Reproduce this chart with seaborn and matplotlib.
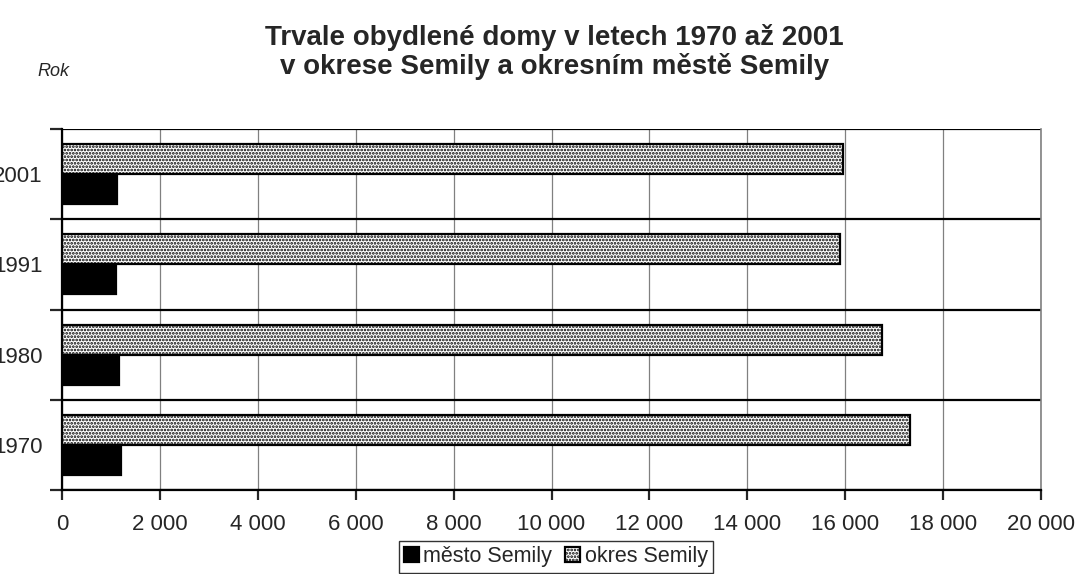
import pandas as pd
import numpy as np
import matplotlib
matplotlib.use('Agg')
import matplotlib.pyplot as plt
from matplotlib.ticker import FuncFormatter, FixedLocator
import seaborn as sns

roky = ['2001', '1991', '1980', '1970']
mesto = [1130, 1110, 1170, 1210]
okres = [15950, 15900, 16760, 17320]
rady = ['okres Semily', 'město Semily']

df = pd.DataFrame({
    'rok': roky * 2,
    'domy': okres + mesto,
    'rada': [rady[0]] * 4 + [rady[1]] * 4,
})

sns.set_style('white')
plt.rcParams['font.family'] = ['Liberation Sans', 'DejaVu Sans']
plt.rcParams['hatch.linewidth'] = 1.3
plt.rcParams['hatch.color'] = 'black'

fig = plt.figure(figsize=(10.77, 5.74), dpi=100)
ax = fig.add_axes([62/1077, 1 - 490/574, (1041-62)/1077, (490-129)/574])

sns.barplot(data=df, y='rok', x='domy', hue='rada', order=roky, hue_order=rady,
            palette={'okres Semily': 'white', 'město Semily': 'black'},
            orient='h', width=0.667, edgecolor='black', linewidth=1.6,
            legend=False, ax=ax)

for bar in ax.containers[0]:
    bar.set_hatch('.....')

ax.set_xlim(0, 20000)
ax.set_ylim(3.5, -0.5)
ax.set_xticks(np.arange(0, 20001, 2000))
ax.xaxis.set_major_formatter(FuncFormatter(lambda v, p: f'{int(v):,}'.replace(',', ' ')))
ax.tick_params(axis='x', labelsize=16, length=7, width=1.6, direction='out', pad=10, bottom=True)

ax.yaxis.set_major_locator(FixedLocator([-0.5, 0.5, 1.5, 2.5, 3.5]))
ax.yaxis.set_minor_locator(FixedLocator([0, 1, 2, 3]))
ax.set_yticklabels([], minor=False)
ax.set_yticklabels(roky, minor=True)
ax.tick_params(axis='y', which='major', length=9, width=1.6, direction='out', left=True)
ax.tick_params(axis='y', which='minor', length=0, labelsize=16, pad=14)

ax.set_xlabel('')
ax.set_ylabel('')
ax.grid(axis='x', color='#808080', linewidth=0.9)
ax.grid(axis='y', which='major', color='black', linewidth=1.6)
ax.set_axisbelow(True)
for s in ['left', 'bottom']:
    ax.spines[s].set_color('black')
    ax.spines[s].set_linewidth(1.6)
ax.spines['top'].set_visible(False)
ax.spines['right'].set_color('#808080')
ax.spines['right'].set_linewidth(1.2)

fig.text(0.515, 1 - 52/574, 'Trvale obydlené domy v letech 1970 až 2001\nv okrese Semily a okresním městě Semily',
         ha='center', va='center', fontsize=20, fontweight='bold', linespacing=1.05)
fig.text(37/1077, 1 - 72/574, 'Rok', ha='left', va='center', fontsize=13, style='italic')

leg = fig.legend(handles=[ax.containers[1], ax.containers[0]], labels=['město Semily', 'okres Semily'],
                 loc='upper center', bbox_to_anchor=(0.516, 1 - 541/574), ncol=2, fontsize=15.5,
                 frameon=True, fancybox=False, edgecolor='black', handlelength=0.7, handleheight=0.7,
                 handletextpad=0.2, columnspacing=0.6, borderpad=0.25, borderaxespad=0)
leg.get_frame().set_linewidth(1.0)

fig.savefig('out.png', dpi=100)
